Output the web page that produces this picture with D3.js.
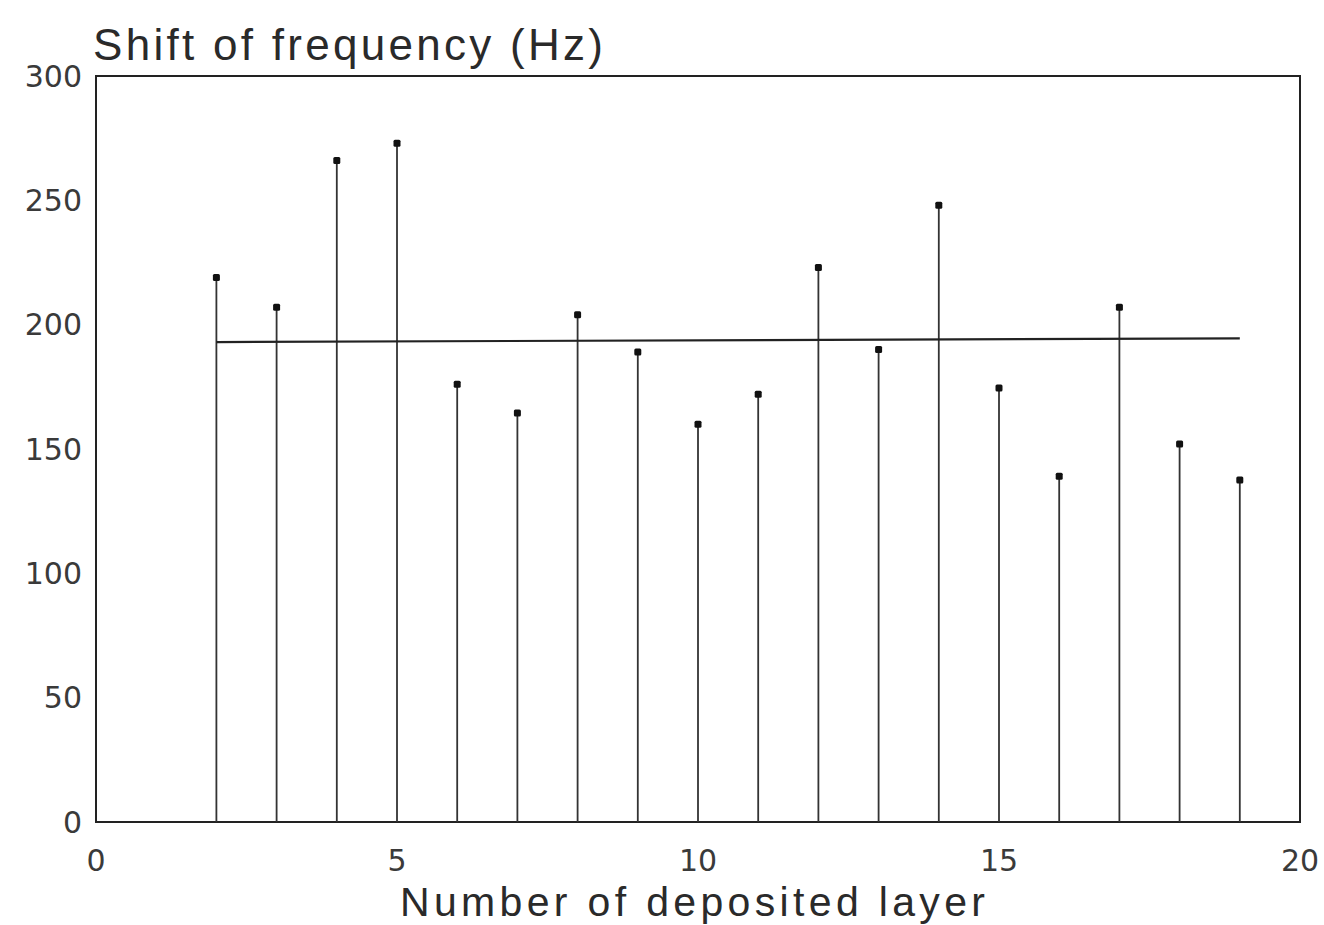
<!DOCTYPE html>
<html>
<head>
<meta charset="utf-8">
<script src="https://cdn.jsdelivr.net/npm/d3@7/dist/d3.min.js"></script>
<style>
  html, body { margin: 0; padding: 0; background: #fff; }
  svg { display: block; }
  text { fill: #333; }
  .tick { font-family: "DejaVu Sans", sans-serif; fill: #3a3a3a; }
  .title { font-family: "Liberation Sans", Arial, sans-serif; fill: #2a2a2a; }
</style>
</head>
<body>
<script>
// Data
const layers = [2, 3, 4, 5, 6, 7, 8, 9, 10, 11, 12, 13, 14, 15, 16, 17, 18, 19];
const shifts = [219, 207, 266, 273, 176, 164.5, 204, 189, 160, 172, 223, 190, 248, 174.5, 139, 207, 152, 137.5];
const meanLine = [[2, 193], [19, 194.5]];
const xTicks = [0, 5, 10, 15, 20];
const yTicks = [0, 50, 100, 150, 200, 250, 300];
const yTitle = "Shift of frequency (Hz)";
const xTitle = "Number of deposited layer";

const W = 1324, H = 925;
const m = { left: 96, right: 24, top: 76, bottom: 103 };

const svg = d3.select("body").append("svg").attr("width", W).attr("height", H);

const x = d3.scaleLinear().domain([0, 20]).range([m.left, W - m.right]);
const y = d3.scaleLinear().domain([0, 300]).range([H - m.bottom, m.top]);

// frame
svg.append("rect")
  .attr("x", x(0)).attr("y", y(300))
  .attr("width", x(20) - x(0)).attr("height", y(0) - y(300))
  .attr("fill", "none").attr("stroke", "#222").attr("stroke-width", 2);

// stems
svg.append("g").selectAll("line").data(layers).join("line")
  .attr("x1", d => x(d)).attr("x2", d => x(d))
  .attr("y1", y(0)).attr("y2", (d, i) => y(shifts[i]))
  .attr("stroke", "#333").attr("stroke-width", 1.8);

// markers
svg.append("g").selectAll("rect").data(layers).join("rect")
  .attr("x", d => x(d) - 3.5).attr("y", (d, i) => y(shifts[i]) - 3.5)
  .attr("width", 7).attr("height", 7).attr("rx", 1.5).attr("fill", "#111");

// mean line
svg.append("path")
  .attr("d", d3.line().x(d => x(d[0])).y(d => y(d[1]))(meanLine))
  .attr("fill", "none").attr("stroke", "#222").attr("stroke-width", 2.2);

// y tick labels
svg.append("g").selectAll("text").data(yTicks).join("text")
  .attr("class", "tick")
  .attr("x", x(0) - 14).attr("y", d => y(d))
  .attr("dy", "0.36em").attr("text-anchor", "end")
  .attr("font-size", 30)
  .text(d => d);

// x tick labels
svg.append("g").selectAll("text").data(xTicks).join("text")
  .attr("class", "tick")
  .attr("x", d => x(d)).attr("y", y(0) + 49)
  .attr("text-anchor", "middle")
  .attr("font-size", 30)
  .text(d => d);

// titles
svg.append("text").attr("class", "title").attr("x", 93).attr("y", 60)
  .attr("font-size", 44)
  .attr("textLength", 510).attr("lengthAdjust", "spacing")
  .text(yTitle);

svg.append("text").attr("class", "title").attr("x", 400).attr("y", 916)
  .attr("font-size", 41)
  .attr("textLength", 585).attr("lengthAdjust", "spacing")
  .text(xTitle);
</script>
</body>
</html>
